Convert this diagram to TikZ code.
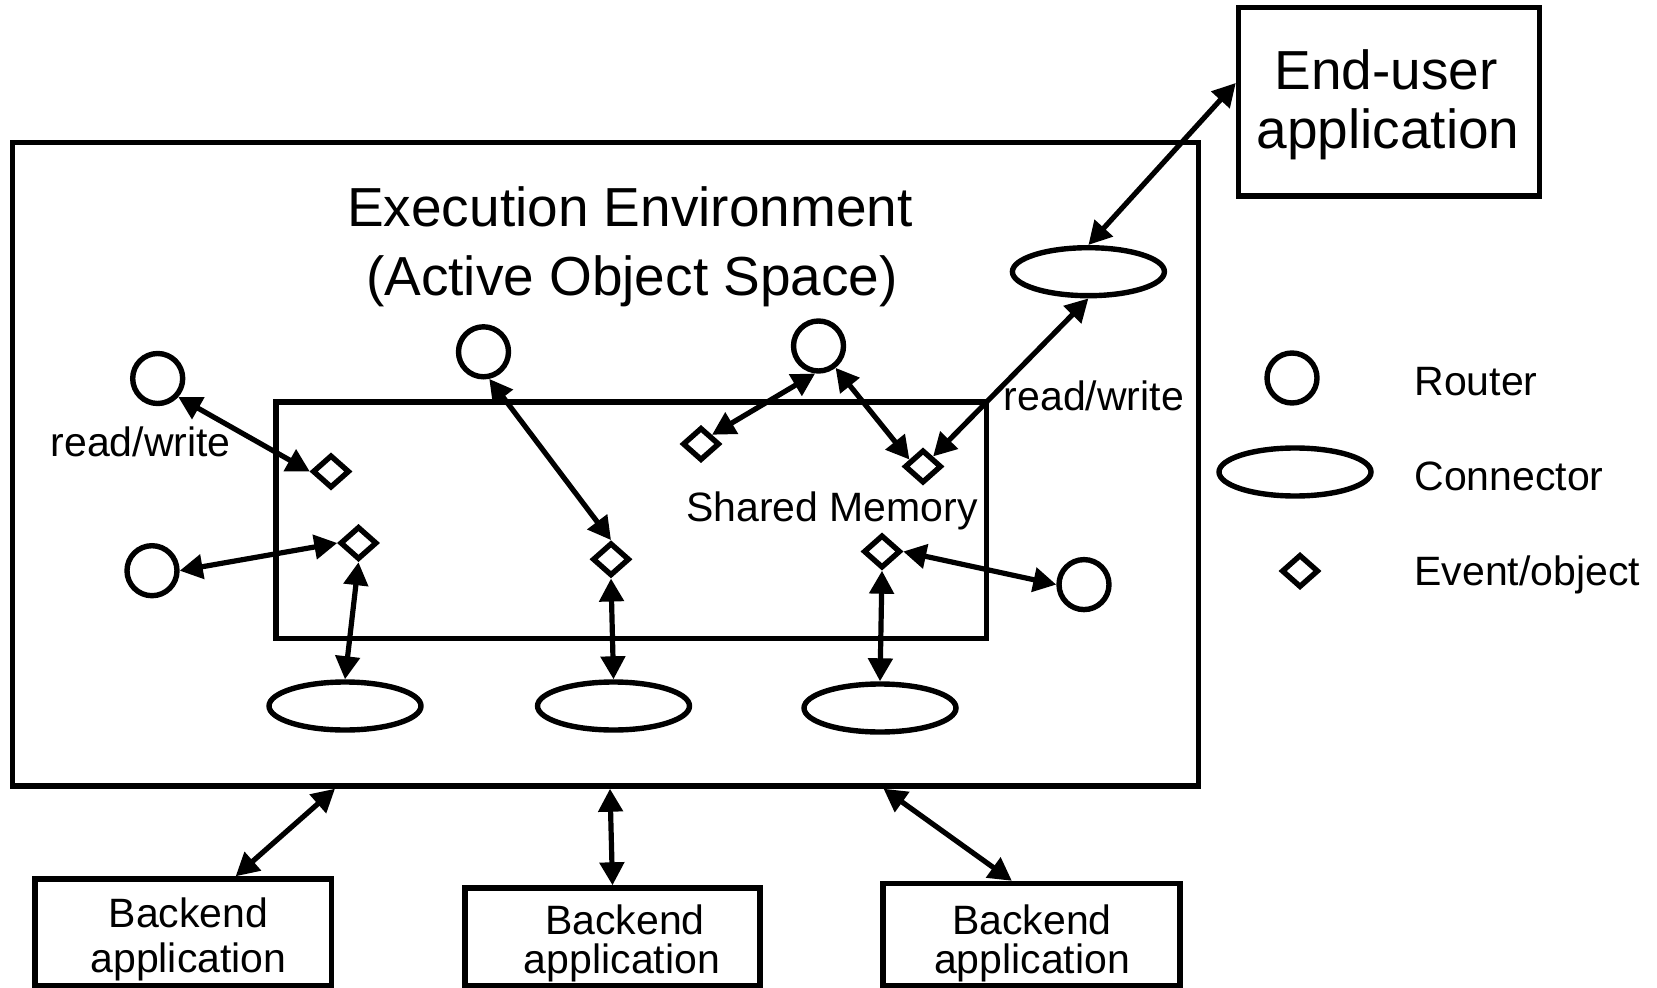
\documentclass[tikz,border=0pt]{standalone}
\usepackage{fontspec}
\setmainfont{Liberation Sans}
\usetikzlibrary{shapes.geometric,arrows.meta}
\begin{document}
\begin{tikzpicture}[x=0.5pt,y=-0.5pt,
  box/.style={rectangle, draw, line width=2.7pt, inner sep=0pt},
  router/.style={circle, draw, line width=2.7pt, minimum size=25pt, inner sep=0pt},
  conn/.style={ellipse, draw, line width=2.7pt, minimum width=76pt, minimum height=24pt, inner sep=0pt},
  evt/.style={diamond, draw, line width=2.7pt, minimum width=18.5pt, minimum height=16.5pt, inner sep=0pt},
  link/.style={{Triangle[length=11.5pt,width=12pt]}-{Triangle[length=11.5pt,width=12pt]}, line width=2.6pt},
  big/.style={font=\fontsize{27.5pt}{33pt}\selectfont, inner sep=0pt},
  small/.style={font=\fontsize{20.5pt}{24pt}\selectfont, inner sep=0pt}]
\useasboundingbox (0,0) rectangle (1657,988);

% containers
\node[box, minimum width=592.85pt, minimum height=321.65pt] (env) at (605.55,464.35) {};
\node[box, minimum width=355.25pt, minimum height=118.15pt] (shm) at (631.25,520.15) {};
\node[box, minimum width=150.5pt, minimum height=94.25pt] (eu) at (1389,101.75) {};
\node[box, minimum width=148.25pt, minimum height=53.5pt] (b1) at (183.25,932.5) {};
\node[box, minimum width=147.5pt, minimum height=49pt] (b2) at (612.5,937) {};
\node[box, minimum width=148.5pt, minimum height=51.25pt] (b3) at (1031.5,934.75) {};

% titles and labels
\node[big, anchor=base] (title1) at (630,226.7) {Execution Environment};
\node[big, anchor=base] (title2) at (632,296) {(Active Object Space)};
\node[big, anchor=base] (eut1) at (1386,90) {End-user};
\node[big, anchor=base] (eut2) at (1388,149) {application};
\node[small, anchor=base] (rwl) at (140.6,457) {read/write};
\node[small, anchor=base] (rwr) at (1093.8,410) {read/write};
\node[small, anchor=base] (shmt) at (832,521.7) {Shared Memory};
\node[small, anchor=base] (b1t1) at (188.5,927.5) {Backend};
\node[small, anchor=base] (b1t2) at (188.5,972) {application};
\node[small, anchor=base] (b2t1) at (625,934) {Backend};
\node[small, anchor=base] (b2t2) at (622,973) {application};
\node[small, anchor=base] (b3t1) at (1032,934) {Backend};
\node[small, anchor=base] (b3t2) at (1032,973) {application};

% routers
\node[router] (r1) at (157.7,378.5) {};
\node[router] (r2) at (483.5,351.8) {};
\node[router] (r3) at (818.5,346) {};
\node[router] (r4) at (152,570.7) {};
\node[router] (r5) at (1084,584.6) {};

% connectors
\node[conn] (ct) at (1088.4,271.7) {};
\node[conn] (c1) at (345,706) {};
\node[conn] (c2) at (613.5,706) {};
\node[conn] (c3) at (880,708) {};

% events / objects
\node[evt] (d1) at (331,471.5) {};
\node[evt] (d2) at (358.5,543) {};
\node[evt] (d3) at (611,559.3) {};
\node[evt] (d4) at (701,444) {};
\node[evt] (d5) at (923,466.5) {};
\node[evt] (d6) at (882,551.5) {};

% legend
\node[router] (lr) at (1292,378) {};
\node[conn] (lc) at (1295,472) {};
\node[evt] (ld) at (1300,571) {};
\node[small, anchor=base west] (lrt) at (1414,396) {Router};
\node[small, anchor=base west] (lct) at (1414,490) {Connector};
\node[small, anchor=base west] (ldt) at (1414,585) {Event/object};

% points on the bottom edge of the execution environment
\coordinate (e1) at (335,0);
\coordinate (e2) at (610,0);
\coordinate (e3) at (883.5,0);

% links
\draw[link] (r1.-42) -- (d1.west);
\draw[link] (r4.east) -- (d2.west);
\draw[link] (d2.south) -- (c1.north);
\draw[link] (r2.-78) -- (d3.north);
\draw[link] (d3.south) -- (c2.north);
\draw[link] (r3.263) -- (d4.40);
\draw[link] (r3.-52) -- (d5.153);
\draw[link] (ct.south) -- (d5.45);
\draw[link] (d6.east) -- (r5.west);
\draw[link] (d6.south) -- (c3.north);
\draw[link] (eu.173) -- (ct.north);
\draw[link] (env.south -| e1) -- (b1.47.7);
\draw[link] (env.south -| e2) -- (b2.north);
\draw[link] (env.south -| e3) -- (b3.110);
\end{tikzpicture}
\end{document}
